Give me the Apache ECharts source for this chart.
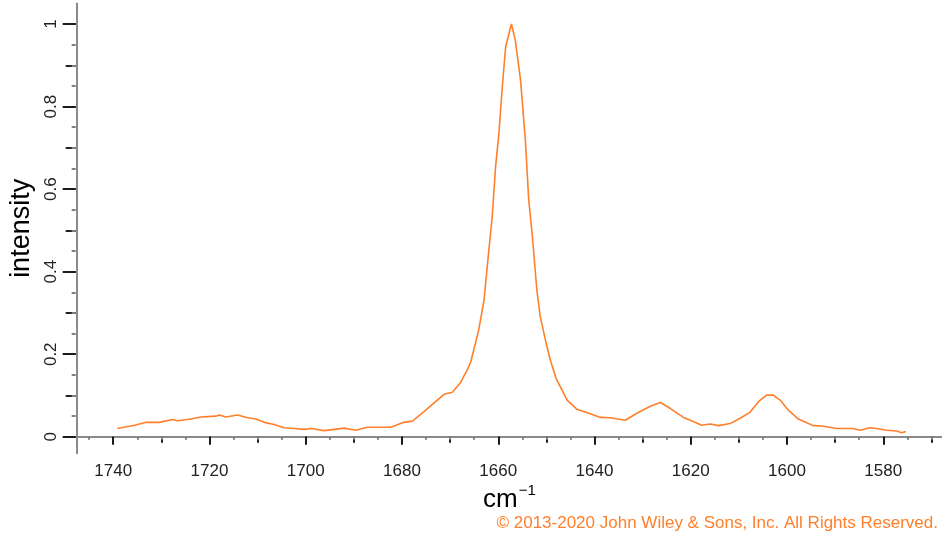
<!DOCTYPE html>
<html><head><meta charset="utf-8">
<script src="https://cdn.jsdelivr.net/npm/echarts@6/dist/echarts.min.js"></script>
<style>html,body{margin:0;padding:0;background:#fff}#c{width:942px;height:540px}</style>
</head><body><div id="c"></div>
<script>
// ---- data ----
const wavenumber = [1739.4,1735.8,1733.4,1730.7,1727.9,1726.8,1724.1,1722.0,1718.9,1718.2,1716.8,1714.4,1712.3,1710.6,1708.8,1706.8,1704.7,1702.6,1700.5,1699.1,1696.4,1694.3,1692.2,1689.8,1687.4,1682.5,1679.8,1678.0,1675.6,1673.5,1671.4,1669.7,1668.0,1666.6,1665.9,1664.2,1663.1,1662.1,1661.4,1660.7,1660.0,1659.3,1658.6,1657.4,1656.6,1655.5,1654.5,1653.8,1653.1,1652.1,1651.4,1650.0,1649.3,1648.1,1645.8,1643.7,1641.7,1638.9,1636.8,1633.7,1631.3,1628.5,1626.4,1624.4,1621.6,1619.9,1617.8,1616.0,1614.3,1611.9,1609.8,1607.8,1606.0,1604.3,1602.9,1601.5,1599.8,1597.7,1596.3,1594.6,1592.8,1589.7,1586.3,1584.9,1582.8,1581.4,1579.3,1577.2,1576.2,1575.3];
const intensity = [0.020,0.028,0.035,0.035,0.042,0.039,0.043,0.048,0.050,0.053,0.048,0.053,0.046,0.043,0.035,0.030,0.022,0.020,0.018,0.020,0.015,0.018,0.021,0.016,0.023,0.023,0.035,0.038,0.061,0.082,0.103,0.108,0.131,0.162,0.180,0.259,0.331,0.452,0.533,0.654,0.735,0.848,0.945,1.000,0.961,0.864,0.719,0.574,0.493,0.355,0.291,0.218,0.186,0.141,0.089,0.066,0.059,0.047,0.046,0.040,0.057,0.074,0.083,0.069,0.047,0.039,0.028,0.031,0.027,0.032,0.045,0.059,0.085,0.101,0.101,0.089,0.065,0.043,0.036,0.027,0.026,0.020,0.020,0.016,0.022,0.020,0.016,0.014,0.010,0.013];
const xTickLabels = [1740,1720,1700,1680,1660,1640,1620,1600,1580];
const yTickLabels = [0,0.2,0.4,0.6,0.8,1];
const xAxisTitle = 'cm';
const xAxisTitleSup = '\u22121';
const yAxisTitle = 'intensity';
const copyright = '\u00A9 2013-2020 John Wiley & Sons, Inc. All Rights Reserved.';

// ---- layout ----
const W = 942, H = 540;
const X_MIN = 1567.8, X_MAX = 1747.8, Y_MIN = -0.04, Y_MAX = 1.05;
const PX_L = 75.7, PX_R = 942, PY_T = 3.4, PY_B = 453.3;
const gx = v => PX_L + (X_MAX - v) / (X_MAX - X_MIN) * (PX_R - PX_L);
const gy = v => PY_B - (v - Y_MIN) / (Y_MAX - Y_MIN) * (PY_B - PY_T);
const FONT = 'Liberation Sans, Arial, Helvetica, sans-serif';
const ORANGE = '#ff7f2a';

const xLo = Math.min(...xTickLabels), xHi = Math.max(...xTickLabels);
const yLo = Math.min(...yTickLabels), yHi = Math.max(...yTickLabels);
const xStep = xTickLabels[0] - xTickLabels[1];
const yStep = yTickLabels[1] - yTickLabels[0];

const tickSets = [
  {x:[xLo - xStep/2, xHi], y:[yLo, yHi], xi:xStep/2, yi:yStep/2, xl:6, yl:10, c:'#222', labels:false},
  {x:[xLo - xStep/2, xHi + xStep/4], y:[yLo, yHi], xi:xStep/4, yi:yStep/4, xl:3, yl:4, c:'#808080', labels:false},
  {x:[xLo, xHi], y:[yLo, yHi], xi:xStep, yi:yStep, xl:8, yl:13, c:'#1a1a1a', labels:true}
];

const grids = [{left:PX_L, right:W-PX_R, top:PY_T, bottom:H-PY_B}];
const xAxes = [{
  type:'value', gridIndex:0, inverse:true, min:X_MIN, max:X_MAX,
  axisLine:{show:true, lineStyle:{color:'#8a8a8a', width:2}},
  axisTick:{show:false}, axisLabel:{show:false}, splitLine:{show:false},
  name:'{a|' + xAxisTitle + '}{b|' + xAxisTitleSup + '}', nameLocation:'middle', nameGap:30,
  nameTextStyle:{rich:{
    a:{fontFamily:FONT, fontSize:26, color:'#000', verticalAlign:'bottom', lineHeight:30},
    b:{fontFamily:FONT, fontSize:15, color:'#000', verticalAlign:'top', lineHeight:30, padding:[0,0,0,1]}
  }}
}];
const yAxes = [{
  type:'value', gridIndex:0, min:Y_MIN, max:Y_MAX,
  axisLine:{show:true, lineStyle:{color:'#8a8a8a', width:2}},
  axisTick:{show:false}, axisLabel:{show:false}, splitLine:{show:false},
  name:yAxisTitle, nameLocation:'middle', nameGap:42, nameRotate:90,
  nameTextStyle:{fontFamily:FONT, fontSize:27, color:'#000'}
}];
tickSets.forEach((s, i) => {
  const gi = i + 1;
  grids.push({left:gx(s.x[1]), right:W-gx(s.x[0]), top:gy(s.y[1]), bottom:H-gy(s.y[0])});
  xAxes.push({
    type:'value', gridIndex:gi, inverse:true, min:s.x[0], max:s.x[1], interval:s.xi,
    offset: PY_B - gy(s.y[0]),
    axisLine:{show:false}, splitLine:{show:false},
    axisTick:{show:true, length:s.xl, lineStyle:{color:s.c, width:2}},
    axisLabel:{show:s.labels, margin:10, fontFamily:FONT, fontSize:17, color:'#222',
      formatter: v => String(v)}
  });
  yAxes.push({
    type:'value', gridIndex:gi, min:s.y[0], max:s.y[1], interval:s.yi,
    offset: gx(s.x[1]) - PX_L,
    axisLine:{show:false}, splitLine:{show:false},
    axisTick:{show:true, length:s.yl, lineStyle:{color:s.c, width:2}},
    axisLabel:{show:s.labels, rotate:90, margin:16, fontFamily:FONT, fontSize:17, color:'#222',
      formatter: v => String(v)}
  });
});

const chart = echarts.init(document.getElementById('c'), null, {renderer:'canvas'});
chart.setOption({
  animation:false,
  backgroundColor:'#fff',
  grid:grids, xAxis:xAxes, yAxis:yAxes,
  series:[{
    type:'line', xAxisIndex:0, yAxisIndex:0,
    data: wavenumber.map((w, i) => [w, intensity[i]]),
    showSymbol:false, smooth:false,
    lineStyle:{color:ORANGE, width:1.6}
  }],
  graphic:[{
    type:'text', x:938, y:523,
    style:{text:copyright, fill:ORANGE, font:'17px ' + FONT, textAlign:'right', textVerticalAlign:'middle'}
  }]
});
</script></body></html>
